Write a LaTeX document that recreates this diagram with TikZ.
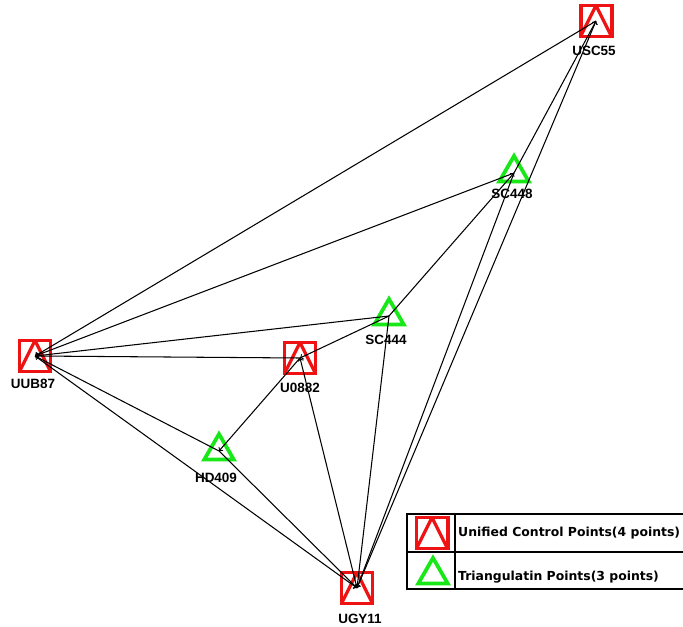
\documentclass[tikz,border=0pt]{standalone}
\usepackage{fontspec}
\setmainfont{Liberation Sans}
\newfontfamily\legendfont{DejaVu Sans}
\usepackage{tikz}
\usetikzlibrary{arrows,shapes.geometric,positioning}
\definecolor{ucpred}{RGB}{238,18,18}
\definecolor{tpgreen}{RGB}{24,232,24}

\begin{document}
\begin{tikzpicture}[x=0.03cm,y=-0.03cm]
\tikzstyle{lbl}=[font=\bfseries\fontsize{11.5}{12}\selectfont,inner sep=0pt]
\tikzstyle{ucp}=[rectangle,draw=ucpred,line width=3.4pt,minimum size=0.93cm,inner sep=0pt,
  path picture={\draw[ucpred,line width=2.8pt] (path picture bounding box.south west)
    -- (path picture bounding box.north) -- (path picture bounding box.south east);}]
\tikzstyle{tp}=[regular polygon,regular polygon sides=3,draw=tpgreen,line width=3.2pt,minimum size=1.02cm,inner sep=0pt]
\tikzstyle{obs}=[->,line width=0.9pt]
\tikzstyle{legtext}=[anchor=west,inner sep=0pt,font=\legendfont\bfseries\fontsize{10.6}{12}\selectfont]
\useasboundingbox (0,0) rectangle (683,626);
% points
\node[ucp] (usc55) at (596,21) {};
\node[tp] (sc448) at (514,173) {};
\node[tp] (sc444) at (389,316) {};
\node[ucp] (uub87) at (35,356) {};
\node[ucp] (u0882) at (300,358) {};
\node[tp] (hd409) at (219,451) {};
\node[ucp] (ugy11) at (357,588) {};
% point names
\node[lbl] (usc55-l) at (594,51) {USC55};
\node[lbl] (sc448-l) at (512,194) {SC448};
\node[lbl] (sc444-l) at (386,340) {SC444};
\node[lbl] (uub87-l) at (33,384) {UUB87};
\node[lbl] (u0882-l) at (300,388) {U0882};
\node[lbl] (hd409-l) at (216,478) {HD409};
\node[lbl] (ugy11-l) at (360,619) {UGY11};
% observations
\draw[obs] (usc55.center) -- (uub87.center);
\draw[obs] (sc448.center) -- (uub87.center);
\draw[obs] (sc444.center) -- (uub87.center);
\draw[obs] (u0882.center) -- (uub87.center);
\draw[obs] (hd409.center) -- (uub87.center);
\draw[obs] (uub87.center) -- (ugy11.center);
\draw[obs] (hd409.center) -- (ugy11.center);
\draw[obs] (u0882.center) -- (hd409.center);
\draw[obs] (ugy11.center) -- (u0882.center);
\draw[obs] (sc444.center) -- (u0882.center);
\draw[obs] (sc444.center) -- (ugy11.center);
\draw[obs] (sc444.center) -- (sc448.center);
\draw[obs] (sc448.center) -- (ugy11.center);
\draw[obs] (sc448.center) -- (usc55.center);
\draw[obs] (ugy11.center) -- (usc55.center);
% legend
\draw[line width=1.6pt] (407,514) rectangle (700,589);
\draw[line width=1.2pt] (407,552) -- (700,552) (455,514) -- (455,589);
\node[ucp] (legucp) at (432,533) {};
\node[legtext] (legucptext) at (458,533) {Unified Control Points(4 points)};
\node[tp] (legtp) at (433,575) {};
\node[legtext] (legtptext) at (458,577) {Triangulatin Points(3 points)};
\end{tikzpicture}
\end{document}
